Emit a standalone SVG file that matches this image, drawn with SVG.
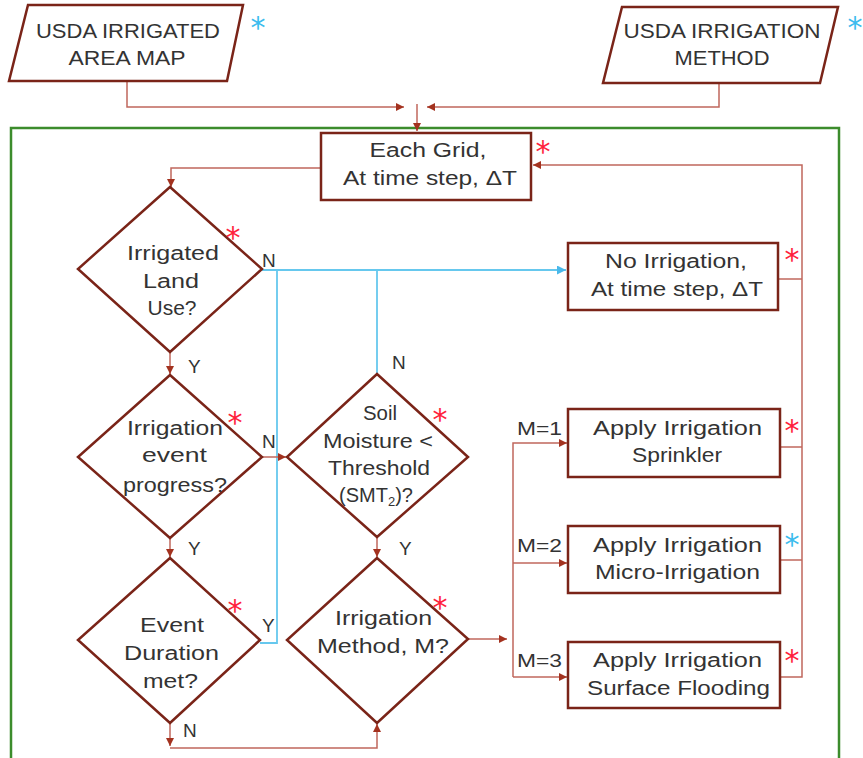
<svg xmlns="http://www.w3.org/2000/svg" width="863" height="758" viewBox="0 0 863 758">
<style>
.bx{fill:#fff;stroke:#7a2418;stroke-width:2.5}
.ln{fill:none;stroke:#c0675c;stroke-width:1.5}
.bl{fill:none;stroke:#66c8ee;stroke-width:1.8}
.t{font-family:"Liberation Sans",Arial,sans-serif;font-size:20px;fill:#333;text-anchor:middle}
.lb{font-family:"Liberation Sans",Arial,sans-serif;font-size:19px;fill:#333}
.ar{font-family:"DejaVu Sans",sans-serif;font-size:30px;fill:#ff1f3d;text-anchor:middle}
.ab{font-family:"DejaVu Sans",sans-serif;font-size:30px;fill:#3cbcee;text-anchor:middle}
</style>
<defs>
<marker id="ah" viewBox="0 0 10 10" refX="10" refY="5" markerWidth="9" markerHeight="8" markerUnits="userSpaceOnUse" orient="auto"><path d="M0,0 L10,5 L0,10 z" fill="#a3321f"/></marker>
<marker id="ahb" viewBox="0 0 10 10" refX="10" refY="5" markerWidth="10" markerHeight="9" markerUnits="userSpaceOnUse" orient="auto"><path d="M0,0 L10,5 L0,10 z" fill="#4ab8ea"/></marker>
</defs>
<rect width="863" height="758" fill="#fff"/>
<rect id="frame" x="11" y="128" width="828" height="650" fill="none" stroke="#3c8c2c" stroke-width="2.5"/>

<g id="connectors">
<path class="ln" d="M127,81 V107 H404" marker-end="url(#ah)"/>
<path class="ln" d="M719,83 V107 H427" marker-end="url(#ah)"/>
<path class="ln" d="M417,104 V131" marker-end="url(#ah)"/>
<path class="ln" d="M321,168 H171 V187" marker-end="url(#ah)"/>
<path class="ln" d="M170,352 V374" marker-end="url(#ah)"/>
<path class="ln" d="M170,538 V557" marker-end="url(#ah)"/>
<path class="bl" d="M262,270 H566" marker-end="url(#ahb)"/>
<path class="bl" d="M260,643 H277 V270"/>
<path class="bl" d="M377,270 V374"/>
<path class="ln" d="M262,457 H286" marker-end="url(#ah)"/>
<path class="ln" d="M377,537 V557" marker-end="url(#ah)"/>
<path class="ln" d="M170,723 V746" marker-end="url(#ah)"/>
<path class="ln" d="M170,748 H377 V724" marker-end="url(#ah)"/>
<path class="ln" d="M468,639 H507" marker-end="url(#ah)"/>
<path class="ln" d="M513,677 V443 H567" marker-end="url(#ah)"/>
<path class="ln" d="M513,563 H567" marker-end="url(#ah)"/>
<path class="ln" d="M513,677 H567" marker-end="url(#ah)"/>
<path class="ln" d="M778,279 H802"/>
<path class="ln" d="M780,447 H802"/>
<path class="ln" d="M780,560 H802"/>
<path class="ln" d="M780,677 H802 V165 H533" marker-end="url(#ah)"/>
</g>

<g id="n-area-map">
<polygon class="bx" points="28,5 243,5 227,81 9,81"/>
<text class="t" x="128" y="38" textLength="184" lengthAdjust="spacingAndGlyphs">USDA IRRIGATED</text>
<text class="t" x="127" y="65" textLength="117" lengthAdjust="spacingAndGlyphs">AREA MAP</text>
<text class="ab" x="258" y="38">*</text>
</g>

<g id="n-method">
<polygon class="bx" points="622,7 838,7 820,83 603,83"/>
<text class="t" x="722" y="38" textLength="197" lengthAdjust="spacingAndGlyphs">USDA IRRIGATION</text>
<text class="t" x="722" y="65" textLength="95" lengthAdjust="spacingAndGlyphs">METHOD</text>
<text class="ab" x="855" y="38">*</text>
</g>

<g id="n-each-grid">
<rect class="bx" x="321" y="133" width="210" height="67"/>
<text class="t" x="428" y="157" textLength="117" lengthAdjust="spacingAndGlyphs">Each Grid,</text>
<text class="t" x="430" y="185" textLength="174" lengthAdjust="spacingAndGlyphs">At time step, ΔT</text>
<text class="ar" x="543" y="162">*</text>
</g>

<g id="n-irrigated-land">
<polygon class="bx" points="170,187 262,269 170,352 78,269"/>
<text class="t" x="173" y="260" textLength="92" lengthAdjust="spacingAndGlyphs">Irrigated</text>
<text class="t" x="171" y="288" textLength="56" lengthAdjust="spacingAndGlyphs">Land</text>
<text class="t" x="172" y="315" textLength="49" lengthAdjust="spacingAndGlyphs">Use?</text>
<text class="ar" x="233" y="248">*</text>
<text class="lb" x="262" y="267">N</text>
<text class="lb" x="188" y="373">Y</text>
</g>

<g id="n-no-irrigation">
<rect class="bx" x="568" y="243" width="210" height="67"/>
<text class="t" x="676" y="268" textLength="142" lengthAdjust="spacingAndGlyphs">No Irrigation,</text>
<text class="t" x="677" y="296" textLength="172" lengthAdjust="spacingAndGlyphs">At time step, ΔT</text>
<text class="ar" x="792" y="270">*</text>
</g>

<g id="n-event-progress">
<polygon class="bx" points="170,375 262,457 170,538 78,457"/>
<text class="t" x="175" y="435" textLength="96" lengthAdjust="spacingAndGlyphs">Irrigation</text>
<text class="t" x="174.5" y="462" textLength="65" lengthAdjust="spacingAndGlyphs">event</text>
<text class="t" x="175" y="492" textLength="104" lengthAdjust="spacingAndGlyphs">progress?</text>
<text class="ar" x="235" y="433">*</text>
<text class="lb" x="262" y="448">N</text>
<text class="lb" x="188" y="555">Y</text>
</g>

<g id="n-soil-moisture">
<polygon class="bx" points="377,374 468,457 377,537 287,457"/>
<text class="t" x="380" y="420" textLength="34" lengthAdjust="spacingAndGlyphs">Soil</text>
<text class="t" x="378" y="448" textLength="110" lengthAdjust="spacingAndGlyphs">Moisture &lt;</text>
<text class="t" x="379" y="475" textLength="102" lengthAdjust="spacingAndGlyphs">Threshold</text>
<text class="t" x="376" y="502">(SMT<tspan font-size="13" dy="4">2</tspan><tspan dy="-4">)?</tspan></text>
<text class="ar" x="440" y="430">*</text>
<text class="lb" x="392" y="369">N</text>
<text class="lb" x="399" y="555">Y</text>
</g>

<g id="n-event-duration">
<polygon class="bx" points="170,558 260,640 170,723 78,640"/>
<text class="t" x="172" y="632" textLength="64" lengthAdjust="spacingAndGlyphs">Event</text>
<text class="t" x="171.5" y="660" textLength="95" lengthAdjust="spacingAndGlyphs">Duration</text>
<text class="t" x="170.5" y="688" textLength="55" lengthAdjust="spacingAndGlyphs">met?</text>
<text class="ar" x="235" y="621">*</text>
<text class="lb" x="262" y="632">Y</text>
<text class="lb" x="183" y="737">N</text>
</g>

<g id="n-irrigation-method">
<polygon class="bx" points="377,558 468,639 377,723 287,640"/>
<text class="t" x="383.5" y="625" textLength="97" lengthAdjust="spacingAndGlyphs">Irrigation</text>
<text class="t" x="383" y="653" textLength="132" lengthAdjust="spacingAndGlyphs">Method, M?</text>
<text class="ar" x="440" y="618">*</text>
<text class="lb" x="517" y="435" textLength="45" lengthAdjust="spacingAndGlyphs">M=1</text>
<text class="lb" x="517" y="552" textLength="45" lengthAdjust="spacingAndGlyphs">M=2</text>
<text class="lb" x="517" y="667" textLength="45" lengthAdjust="spacingAndGlyphs">M=3</text>
</g>

<g id="n-sprinkler">
<rect class="bx" x="568" y="409" width="212" height="68"/>
<text class="t" x="677.5" y="435" textLength="169" lengthAdjust="spacingAndGlyphs">Apply Irrigation</text>
<text class="t" x="677" y="462" textLength="90" lengthAdjust="spacingAndGlyphs">Sprinkler</text>
<text class="ar" x="792" y="441">*</text>
</g>

<g id="n-micro">
<rect class="bx" x="568" y="526" width="212" height="67"/>
<text class="t" x="677.5" y="552" textLength="169" lengthAdjust="spacingAndGlyphs">Apply Irrigation</text>
<text class="t" x="677.5" y="579" textLength="165" lengthAdjust="spacingAndGlyphs">Micro-Irrigation</text>
<text class="ab" x="792" y="555">*</text>
</g>

<g id="n-surface">
<rect class="bx" x="568" y="642" width="212" height="66"/>
<text class="t" x="677.5" y="667" textLength="169" lengthAdjust="spacingAndGlyphs">Apply Irrigation</text>
<text class="t" x="678.5" y="695" textLength="183" lengthAdjust="spacingAndGlyphs">Surface Flooding</text>
<text class="ar" x="792" y="671">*</text>
</g>
</svg>
